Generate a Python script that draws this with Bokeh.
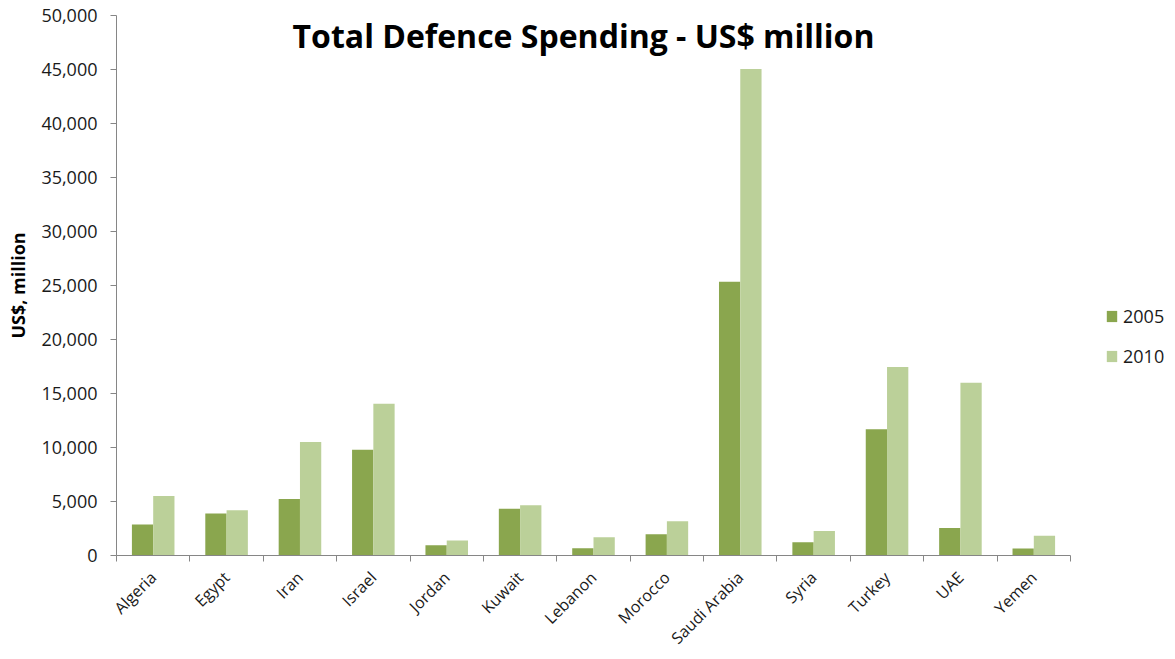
import math
from bokeh.plotting import figure
from bokeh.models import (Range1d, ColumnDataSource, FixedTicker, NumeralTickFormatter,
                          Legend, LegendItem, Label)
from bokeh.transform import dodge
from bokeh.embed import file_html
from bokeh.resources import INLINE

countries = ["Algeria", "Egypt", "Iran", "Israel", "Jordan", "Kuwait", "Lebanon",
             "Morocco", "Saudi Arabia", "Syria", "Turkey", "UAE", "Yemen"]
spend_2005 = [2860, 3900, 5230, 9800, 950, 4340, 680, 1970, 25350, 1230, 11700, 2550, 650]
spend_2010 = [5500, 4180, 10500, 14060, 1380, 4650, 1700, 3170, 45050, 2280, 17450, 16000, 1820]
years = ["2005", "2010"]
y_ticks = list(range(0, 50001, 5000))

TITLE = "Total Defence Spending - US$ million"
Y_LABEL = "US$, million"
C2005 = "#8AA64E"
C2010 = "#BBD099"
GRAY = "#868686"
FONT = "Open Sans"

n = len(countries)
pos = list(range(n))
src = ColumnDataSource(dict(pos=pos, country=countries, y2005=spend_2005, y2010=spend_2010))

# frame spans the whole right side so that the title and legend sit inside it;
# the x axis line is limited with "bounds"
X_END = -0.5 + n * (1175 - 116) / 954

p = figure(width=1175, height=659, x_range=Range1d(-0.5, X_END), y_range=Range1d(0, 50000),
           output_backend="svg", toolbar_location=None,
           min_border_left=116, min_border_right=0, min_border_top=15, min_border_bottom=103)
p.outline_line_color = None
p.grid.visible = False
p.background_fill_color = "white"
p.border_fill_color = "white"

r1 = p.vbar(x=dodge("pos", -0.145), top="y2005", width=0.29,
            source=src, fill_color=C2005, line_color=None)
r2 = p.vbar(x=dodge("pos", 0.145), top="y2010", width=0.29,
            source=src, fill_color=C2010, line_color=None)

# y axis
ya = p.yaxis[0]
ya.ticker = FixedTicker(ticks=y_ticks)
ya.formatter = NumeralTickFormatter(format="0,0")
ya.major_tick_in = 0
ya.major_tick_out = 6
ya.minor_tick_line_color = None
ya.axis_line_color = GRAY
ya.major_tick_line_color = GRAY
ya.major_label_standoff = 13
ya.major_label_text_font = FONT
ya.major_label_text_font_size = "18px"
ya.major_label_text_color = "#1a1a1a"
ya.axis_label = Y_LABEL
ya.axis_label_text_font = FONT
ya.axis_label_text_font_style = "bold"
ya.axis_label_text_font_size = "18px"
ya.axis_label_text_color = "black"
ya.axis_label_standoff = 8

# x axis: names at category centres (major ticks hidden), tick marks at boundaries (minor)
xa = p.xaxis[0]
xa.bounds = (-0.5, n - 0.5)
xa.ticker = FixedTicker(ticks=pos, minor_ticks=[i - 0.5 for i in range(n + 1)])
xa.major_label_overrides = {i: c for i, c in zip(pos, countries)}
xa.major_label_orientation = math.pi / 4
xa.axis_line_color = GRAY
xa.major_tick_line_color = None
xa.major_tick_in = 0
xa.major_tick_out = 0
xa.minor_tick_line_color = GRAY
xa.minor_tick_in = 0
xa.minor_tick_out = 6
xa.major_label_standoff = 13
xa.major_label_text_font = FONT
xa.major_label_text_font_size = "16px"
xa.major_label_text_color = "#1a1a1a"

# title
title = Label(x=467, y=520, x_units="screen", y_units="screen", text=TITLE,
              text_font=FONT, text_font_style="bold", text_font_size="32px",
              text_align="center", text_baseline="middle", text_color="black")
p.add_layout(title)

legend = Legend(items=[LegendItem(label=years[0], renderers=[r1]),
                       LegendItem(label=years[1], renderers=[r2])],
                location=(989, 187), orientation="vertical",
                glyph_width=13, glyph_height=14, label_height=20, spacing=16,
                label_standoff=5, padding=0, margin=0,
                border_line_color=None, background_fill_alpha=0,
                label_text_font=FONT, label_text_font_size="18px", label_text_color="#1a1a1a")
p.add_layout(legend, "center")

open("out.html", "w").write(file_html(p, INLINE))
